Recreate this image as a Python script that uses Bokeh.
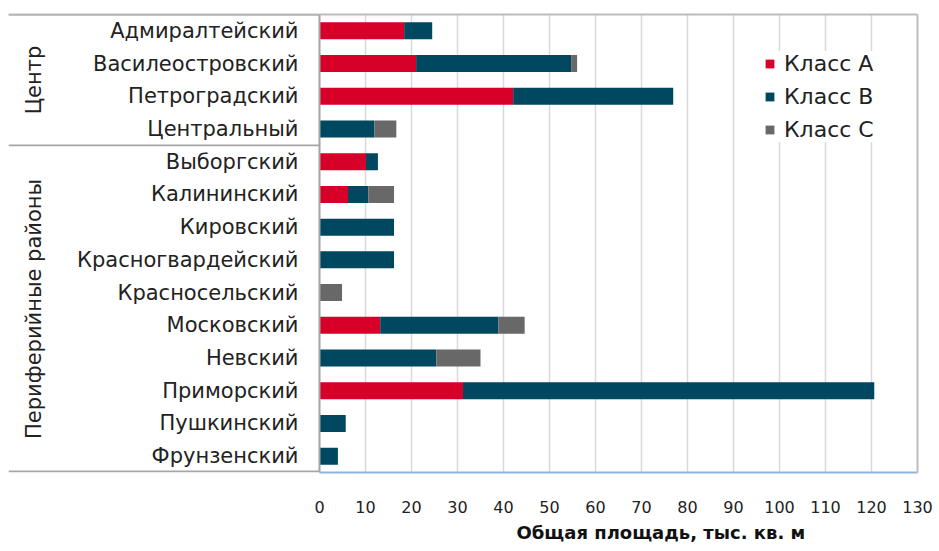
import math
from bokeh.plotting import figure
from bokeh.models import (FactorRange, Range1d, BoxAnnotation, FixedTicker, LinearAxis,
                          ColumnDataSource, Span, Title)
from bokeh.core.properties import value
from bokeh.embed import file_html
from bokeh.resources import INLINE

districts = ["Адмиралтейский", "Василеостровский", "Петроградский", "Центральный",
             "Выборгский", "Калининский", "Кировский", "Красногвардейский", "Красносельский",
             "Московский", "Невский", "Приморский", "Пушкинский", "Фрунзенский"]
class_a = [18.4, 21.0, 42.1, 0, 10.1, 6.2, 0, 0, 0, 13.2, 0, 31.2, 0, 0]
class_b = [6.1, 33.7, 34.8, 11.9, 2.6, 4.4, 16.2, 16.2, 0, 25.7, 25.4, 89.4, 5.7, 4.0]
class_c = [0, 1.3, 0, 4.8, 0, 5.6, 0, 0, 4.9, 5.7, 9.6, 0, 0, 0]
groups = ["Центр", "Периферийные районы"]
group_sizes = [4, 10]
series_names = ["Класс А", "Класс В", "Класс С"]
series_colors = ["#d60029", "#004760", "#686868"]
x_ticks = list(range(0, 131, 10))
x_title = "Общая площадь, тыс. кв. м"

FONT = "DejaVu Sans"
TXT = "#222222"
GRAY = "#a6a6a6"
BORDER = "#bdbdbd"

# layout (pixels): frame spans the label column too, value 0 sits at px 319
W, H = 939, 551
FRAME_L, ZERO_PX, FRAME_R = 8, 319, 917
TITLE_LEFT = 516
x_max = x_ticks[-1]
px_per_unit = (FRAME_R - ZERO_PX) / x_max
x_start = -(ZERO_PX - FRAME_L) / px_per_unit

p = figure(width=W, height=H,
           y_range=FactorRange(factors=districts[::-1]),
           x_range=Range1d(x_start, x_max),
           y_axis_location=None,
           output_backend="svg", toolbar_location=None,
           min_border_left=FRAME_L, min_border_right=W - FRAME_R,
           min_border_top=14, min_border_bottom=79)
p.outline_line_color = None
p.background_fill_color = "white"

src = ColumnDataSource(dict(district=districts, a=class_a, b=class_b, c=class_c))
p.hbar_stack(["a", "b", "c"], y="district", height=0.52, color=series_colors,
             source=src, legend_label=series_names, line_color=None)

# grid
p.ygrid.grid_line_color = None
p.xgrid.grid_line_color = "#d9d9d9"
p.xgrid.grid_line_width = 1.5
p.xgrid.ticker = FixedTicker(ticks=x_ticks)

# bottom value axis
xa = p.xaxis[0]
xa.bounds = (0, x_max)
xa.ticker = FixedTicker(ticks=x_ticks)
xa.major_tick_line_color = None
xa.minor_tick_line_color = None
xa.axis_line_color = "#8eb4e3"
xa.axis_line_width = 2
xa.major_label_standoff = 22
xa.major_label_text_font = FONT
xa.major_label_text_font_size = "16px"
xa.major_label_text_color = TXT

# axis title, left-aligned where the original sits
p.add_layout(Title(text=x_title, align="left", offset=TITLE_LEFT - FRAME_L, standoff=8,
                   text_font=FONT, text_font_size="18px", text_font_style="bold",
                   text_color="#111111"), "below")

# right and top borders (axes without ticks or labels)
right_axis = LinearAxis(ticker=FixedTicker(ticks=[]), axis_line_color=BORDER,
                        axis_line_width=2, major_tick_line_color=None,
                        minor_tick_line_color=None, major_label_standoff=0)
p.add_layout(right_axis, "right")
top_axis = LinearAxis(ticker=FixedTicker(ticks=[]), axis_line_color=BORDER,
                      axis_line_width=2, major_tick_line_color=None,
                      minor_tick_line_color=None, major_label_standoff=0)
p.add_layout(top_axis, "above")

# left border of the value area
p.add_layout(Span(location=0, dimension="height", line_color=GRAY, line_width=2))

# category labels
p.text(x=0, y="district", text="district", source=src, x_offset=-21,
       text_align="right", text_baseline="middle", text_font=value(FONT),
       text_font_size="21px", text_color=TXT)

# group labels and separators
n = len(districts)
centers, bounds = [], [n]
top = n
for size in group_sizes:
    bottom = top - size
    centers.append((top + bottom) / 2)
    bounds.append(bottom)
    top = bottom
gsrc = ColumnDataSource(dict(y=centers, text=groups))
p.text(x=0, y="y", text="text", source=gsrc, x_offset=-286, angle=math.pi / 2,
       text_align="center", text_baseline="middle", text_font=value(FONT),
       text_font_size="21px", text_color=TXT)
for b in bounds:
    top_b = min(b + 0.03, n)
    bot_b = max(b - 0.03, 0)
    if b == 0:
        top_b = 0.06
    p.add_layout(BoxAnnotation(right=0, top=top_b, bottom=bot_b, fill_color=GRAY,
                               fill_alpha=1, line_color=None, level="overlay"))

lg = p.legend[0]
lg.location = (756, 330)
lg.border_line_color = None
lg.background_fill_color = "white"
lg.background_fill_alpha = 1
lg.glyph_width = 11
lg.glyph_height = 11
lg.label_height = 24
lg.spacing = 8
lg.padding = 6
lg.label_standoff = 9
lg.label_text_font = FONT
lg.label_text_font_size = "22px"
lg.label_text_color = TXT

open("out.html", "w").write(file_html(p, INLINE))
